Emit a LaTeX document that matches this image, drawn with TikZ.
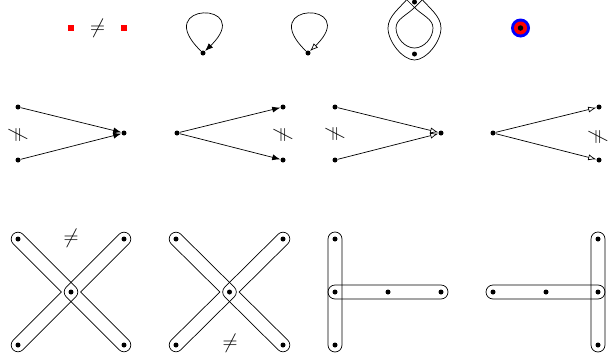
\documentclass[tikz,border=0pt]{standalone}
\usetikzlibrary{arrows.meta,calc}
\begin{document}
\begin{tikzpicture}[x=1pt,y=-1pt,line width=0.7pt,
  vtx/.style={circle,fill=black,inner sep=0pt,minimum size=5pt},
  redsq/.style={fill=red,inner sep=0pt,minimum size=6pt},
  neqsym/.style={inner sep=0pt,font=\fontsize{20}{20}\selectfont},
  arr/.style={-{Latex[length=8pt,width=6pt]}},
  oarr/.style={-{Latex[open,length=8pt,width=6pt]}},
  capsule/.style={rounded corners=7pt}]
\useasboundingbox (0,0) rectangle (608,362);
\clip (0,0) rectangle (608,362);
\def\w{6.8}
% ---------- row 1 ----------
\node[redsq] (r1) at (71,28) {};
\node[redsq] (r2) at (124,28) {};
\node[neqsym] (n0) at (97.5,28) {$\neq$};
\node[vtx] (l1) at (203,53) {};
\draw[arr] (l1) .. controls ($(l1)+(-54,-52)$) and ($(l1)+(54,-52)$) .. (l1);
\node[vtx] (l2) at (308,53) {};
\draw[oarr] (l2) .. controls ($(l2)+(-54,-52)$) and ($(l2)+(54,-52)$) .. (l2);
% ribbon loop
\draw (409,-3) .. controls (400,8) and (388,16) .. (388,28)
  .. controls (388,42) and (403,60) .. (414.5,60)
  .. controls (426,60) and (441,42) .. (441,28)
  .. controls (441,16) and (429,8) .. (420,-3);
\draw (425,-3) -- (414.5,7.5) .. controls (406.5,15.5) and (396,19) .. (396,28)
  .. controls (396,38) and (405,48) .. (414.5,48)
  .. controls (424,48) and (433,38) .. (433,28)
  .. controls (433,19) and (422.5,15.5) .. (414.5,7.5) -- (404,-3);
\node[vtx] (h1) at (414.5,2) {};
\node[vtx] (h2) at (414.5,54) {};
% target
\node[circle,fill=blue,inner sep=0pt,minimum size=19pt] (tb) at (520.5,28) {};
\node[circle,fill=red,inner sep=0pt,minimum size=13pt] (tr) at (tb) {};
\node[vtx,minimum size=5.5pt] (tv) at (tb) {};
% ---------- row 2 ----------
\node[vtx] (a1) at (18,107) {};
\node[vtx] (a2) at (18,160) {};
\node[vtx] (a3) at (124,133) {};
\draw[arr] (a1) -- (a3);
\draw[arr] (a2) -- (a3);
\node[neqsym,rotate=90] (p1) at (18,135) {$\neq$};
\node[vtx] (b1) at (177,133) {};
\node[vtx] (b2) at (283,107) {};
\node[vtx] (b3) at (283,160) {};
\draw[arr] (b1) -- (b2);
\draw[arr] (b1) -- (b3);
\node[neqsym,rotate=90] (p2) at (283,135) {$\neq$};
\node[vtx] (c1) at (335,107) {};
\node[vtx] (c2) at (335,160) {};
\node[vtx] (c3) at (441,133) {};
\draw[oarr] (c1) -- (c3);
\draw[oarr] (c2) -- (c3);
\node[neqsym,rotate=90] (p3) at (335,134) {$\neq$};
\node[vtx] (d1) at (493,133) {};
\node[vtx] (d2) at (599,107) {};
\node[vtx] (d3) at (599,160) {};
\draw[oarr] (d1) -- (d2);
\draw[oarr] (d1) -- (d3);
\node[neqsym,rotate=90] (p4) at (598,137) {$\neq$};
% ---------- row 3 ----------
% X 1
\node[vtx] (xa) at (18,239) {};
\node[vtx] (xb) at (124,239) {};
\node[vtx] (xc) at (71,292) {};
\node[vtx] (xd) at (18,345) {};
\node[vtx] (xe) at (124,345) {};
\draw ($(xa)+(-45:\w)$) -- ($(xc)+(-45:\w)$) arc[start angle=-45,end angle=45,radius=\w]
  -- ($(xd)+(45:\w)$) arc[start angle=45,end angle=225,radius=\w]
  -- ($(xc)+(180:{\w*1.41421})$) -- ($(xa)+(135:\w)$) arc[start angle=135,end angle=315,radius=\w] -- cycle;
\draw ($(xb)+(225:\w)$) -- ($(xc)+(225:\w)$) arc[start angle=225,end angle=135,radius=\w]
  -- ($(xe)+(135:\w)$) arc[start angle=135,end angle=-45,radius=\w]
  -- ($(xc)+(0:{\w*1.41421})$) -- ($(xb)+(45:\w)$) arc[start angle=45,end angle=-135,radius=\w] -- cycle;
\node[neqsym] (n1) at (71,238) {$\neq$};
% X 2
\node[vtx] (ya) at (176,239) {};
\node[vtx] (yb) at (283,239) {};
\node[vtx] (yc) at (229.5,292) {};
\node[vtx] (yd) at (176,345) {};
\node[vtx] (ye) at (283,345) {};
\draw ($(ya)+(-45:\w)$) -- ($(yc)+(-45:\w)$) arc[start angle=-45,end angle=45,radius=\w]
  -- ($(yd)+(45:\w)$) arc[start angle=45,end angle=225,radius=\w]
  -- ($(yc)+(180:{\w*1.41421})$) -- ($(ya)+(135:\w)$) arc[start angle=135,end angle=315,radius=\w] -- cycle;
\draw ($(yb)+(225:\w)$) -- ($(yc)+(225:\w)$) arc[start angle=225,end angle=135,radius=\w]
  -- ($(ye)+(135:\w)$) arc[start angle=135,end angle=-45,radius=\w]
  -- ($(yc)+(0:{\w*1.41421})$) -- ($(yb)+(45:\w)$) arc[start angle=45,end angle=-135,radius=\w] -- cycle;
\node[neqsym] (n2) at (230,343) {$\neq$};
% T 1
\node[vtx] (ta) at (335,239) {};
\node[vtx] (tb1) at (335,292) {};
\node[vtx] (tc) at (335,345) {};
\node[vtx] (td) at (388,292) {};
\node[vtx] (te) at (441,292) {};
\draw[capsule] ($(ta)+(-7,-7)$) rectangle ($(tc)+(7,7)$);
\draw[capsule] ($(tb1)+(-7,-7)$) rectangle ($(te)+(7,7)$);
% T 2
\node[vtx] (ua) at (493,292) {};
\node[vtx] (ub) at (546,292) {};
\node[vtx] (uc) at (598,292) {};
\node[vtx] (ud) at (598,239) {};
\node[vtx] (ue) at (598,345) {};
\draw[capsule] ($(ud)+(-7,-7)$) rectangle ($(ue)+(7,7)$);
\draw[capsule] ($(ua)+(-7,-7)$) rectangle ($(uc)+(7,7)$);
\end{tikzpicture}
\end{document}
